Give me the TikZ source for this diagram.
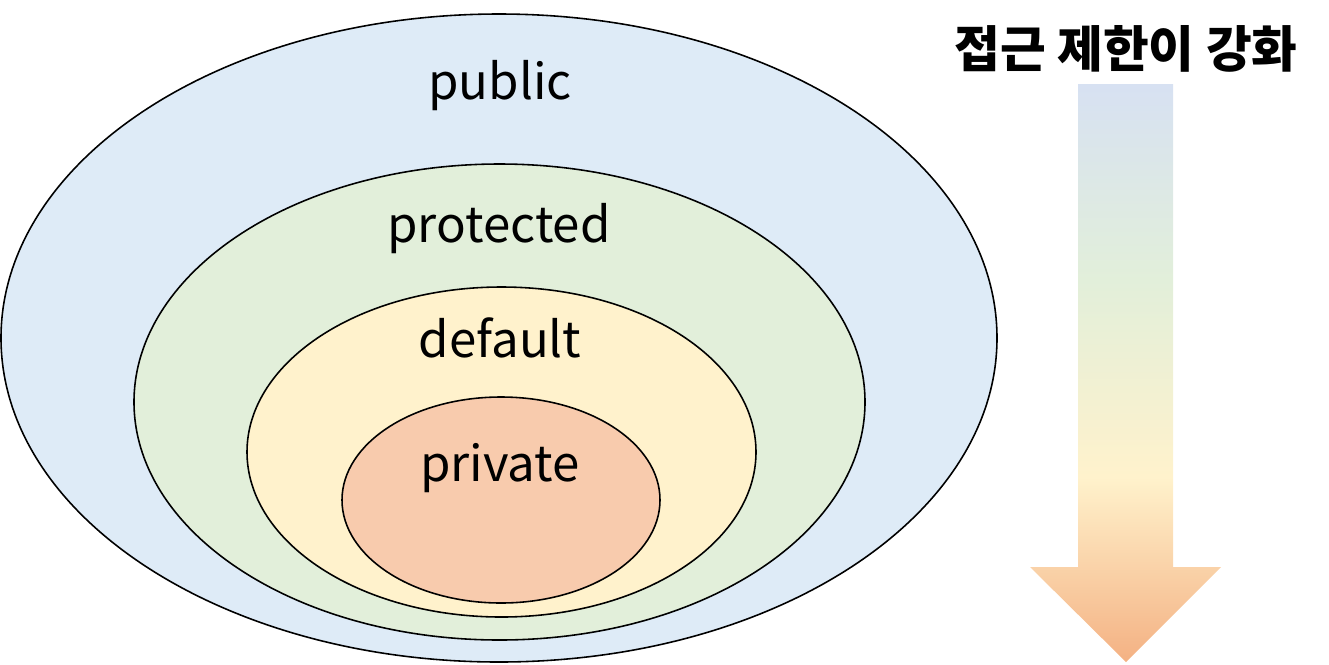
\documentclass[tikz,border=0pt]{standalone}
\usepackage{fontspec}
\setmainfont{Noto Sans CJK KR}
\definecolor{publicfill}{HTML}{DEEBF7}
\definecolor{protectedfill}{HTML}{E2EFDA}
\definecolor{defaultfill}{HTML}{FFF2CC}
\definecolor{privatefill}{HTML}{F8CBAD}
\definecolor{gradtop}{HTML}{D7E1F2}
\definecolor{gradgreen}{HTML}{E2EFDA}
\definecolor{gradyellow}{HTML}{FFF2CC}
\definecolor{gradbottom}{HTML}{F4B183}
\pgfdeclareverticalshading{strictgrad}{100bp}{color(0bp)=(gradbottom); color(25bp)=(gradbottom); color(41bp)=(gradyellow); color(58bp)=(gradgreen); color(75bp)=(gradtop); color(100bp)=(gradtop)}
\tikzset{
  scopering/.style={draw=black, line width=0.9pt},
  levellabel/.style={anchor=base, inner sep=0pt, font=\fontsize{28}{33}\selectfont},
}
\begin{document}
\begin{tikzpicture}[x=0.02cm, y=-0.02cm]
    \useasboundingbox (0,0) rectangle (1329,664);

    % ===== 접근 제어자 영역 =====
    \draw[scopering, fill=publicfill] (499,338) ellipse [x radius=498, y radius=324];
    \draw[scopering, fill=protectedfill] (499.5,402) ellipse [x radius=365.5, y radius=238];
    \draw[scopering, fill=defaultfill] (501.5,452) ellipse [x radius=254.5, y radius=165];
    \draw[scopering, fill=privatefill] (501,500) ellipse [x radius=159, y radius=103];

    % 이름
    \node[levellabel] (public) at (500,99) {public};
    \node[levellabel] (protected) at (499,242) {protected};
    \node[levellabel] (default) at (500,357) {default};
    \node[levellabel] (private) at (500,481) {private};

    % ===== 화살표 =====
    \node[anchor=base, inner sep=0pt, font=\fontsize{28.3}{34}\selectfont\bfseries] (title) at (1126,67) {접근 제한이 강화};
    \shade[shading=strictgrad] (1078,84) -- (1173,84) -- (1173,567) -- (1221,567)
        -- (1126,662) -- (1030,567) -- (1078,567) -- cycle;
\end{tikzpicture}
\end{document}
